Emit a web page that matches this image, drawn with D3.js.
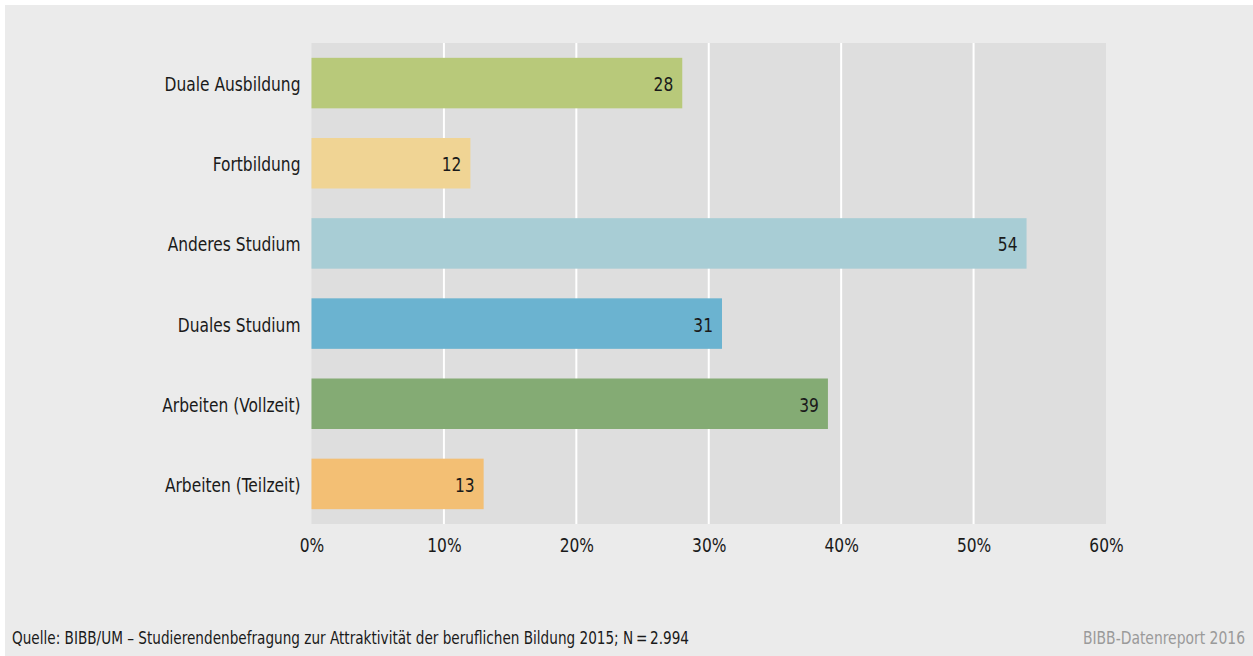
<!DOCTYPE html>
<html><head><meta charset="utf-8">
<script src="https://cdn.jsdelivr.net/npm/d3@7"></script>
<style>
html,body{margin:0;padding:0;background:#fff;}
svg{display:block;}
text{font-family:"DejaVu Sans Condensed","DejaVu Sans",sans-serif;}
</style></head>
<body>
<svg id="chart" width="1253" height="656"></svg>
<script>
const categories = ["Duale Ausbildung","Fortbildung","Anderes Studium","Duales Studium","Arbeiten (Vollzeit)","Arbeiten (Teilzeit)"];
const values = [28, 12, 54, 31, 39, 13];
const barColors = ["#b8c97a","#f0d494","#a8cdd5","#6bb3d0","#84ab74","#f3bf74"];
const tickValues = [0,10,20,30,40,50,60];
const sourceText = "Quelle: BIBB/UM \u2013 Studierendenbefragung zur Attraktivität der beruflichen Bildung 2015; N\u2009=\u20092.994";
const creditText = "BIBB-Datenreport 2016";

const SX = "scale(0.86,1)";
const svg = d3.select("#chart");
svg.append("rect").attr("x",5).attr("y",5).attr("width",1248).attr("height",651).attr("fill","#ebebeb");

const pL = 311.5, pR = 1106, pT = 43, pB = 524;
const x = d3.scaleLinear().domain([0,60]).range([pL,pR]);
const y = d3.scaleBand().domain(categories).range([pT,pB]).paddingInner(0.37).paddingOuter(0.185);

svg.append("rect").attr("x",pL).attr("y",pT).attr("width",pR-pL).attr("height",pB-pT).attr("fill","#dedede");

svg.append("g").selectAll("line").data(tickValues.slice(1,-1)).join("line")
  .attr("x1",d=>x(d)).attr("x2",d=>x(d)).attr("y1",pT).attr("y2",pB)
  .attr("stroke","#ffffff").attr("stroke-width",2);

svg.append("g").selectAll("rect").data(categories).join("rect")
  .attr("x",x(0)).attr("y",d=>y(d)).attr("height",y.bandwidth())
  .attr("width",(d,i)=>x(values[i])-x(0)).attr("fill",(d,i)=>barColors[i]);

svg.append("g").selectAll("g").data(categories).join("g")
  .attr("transform",(d,i)=>`translate(${x(values[i])-9},${y(d)+y.bandwidth()/2})`)
  .append("text").attr("transform",SX)
  .attr("dy","0.4em").attr("text-anchor","end").attr("font-size",20).attr("fill","#1a1a1a")
  .text((d,i)=>values[i]);

const yAxis = svg.append("g").attr("transform",`translate(${pL},0)`)
  .call(d3.axisLeft(y).tickSize(0).tickPadding(12.8));
yAxis.select(".domain").remove();
yAxis.selectAll("text").attr("font-size",20).attr("fill","#1a1a1a").attr("dy","0.4em").attr("transform",SX);
yAxis.attr("font-family",null).attr("font-size",null);

const xAxis = svg.append("g").attr("transform",`translate(0,${pB})`)
  .call(d3.axisBottom(x).tickValues(tickValues).tickSize(0).tickPadding(14).tickFormat(d=>d+"%"));
xAxis.select(".domain").remove();
xAxis.selectAll("text").attr("font-size",20).attr("fill","#1a1a1a").attr("transform",SX);
xAxis.attr("font-family",null).attr("font-size",null);

svg.append("g").attr("transform","translate(12,644)")
  .append("text").attr("transform",SX).attr("font-size",17.6).attr("fill","#1a1a1a").text(sourceText);
svg.append("g").attr("transform","translate(1245,644)")
  .append("text").attr("transform",SX).attr("text-anchor","end").attr("font-size",18).attr("fill","#9a9a9a").text(creditText);
</script>
</body></html>
